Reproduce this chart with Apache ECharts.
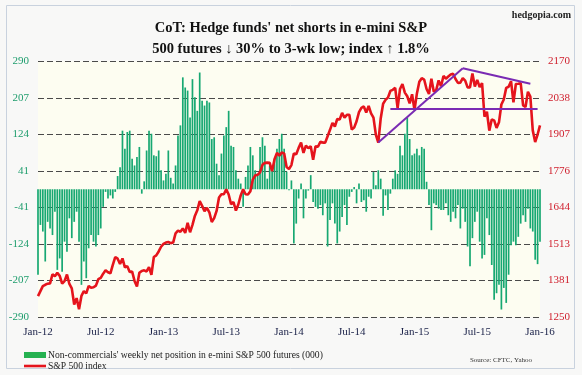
<!DOCTYPE html>
<html>
<head>
<meta charset="utf-8">
<script src="https://cdn.jsdelivr.net/npm/echarts@6/dist/echarts.min.js"></script>
<style>
html,body{margin:0;padding:0;background:#f8f8f7;}
#chart{width:582px;height:375px;}
</style>
</head>
<body>
<div id="chart"></div>
<script>
// weekly net position, non-commercials (000), Feb-2012 .. Jan-2016
var netPosition = [
  -194,-81,-96,-164,-74,-89,-104,-51,-183,-157,
  -187,-119,-142,-66,-111,-74,-51,-119,-217,-164,
  -202,-134,-104,-119,-130,-104,-89,-40,-6,-21,
  -14,-21,-6,30,50,133,92,130,133,69,
  54,73,96,-10,18,88,133,126,77,75,
  88,43,20,35,88,26,13,54,122,145,
  254,231,224,163,250,209,178,265,201,190,
  201,197,114,118,58,32,81,122,141,178,
  99,96,43,24,13,-40,28,54,96,77,
  43,35,96,118,99,24,54,50,69,92,
  114,126,92,40,-2,20,-123,-78,-21,13,
  -66,-21,-3,32,-29,-40,-44,-36,-59,-32,
  -130,-70,-32,-78,-123,-96,-63,-36,-81,-17,
  -6,5,-32,13,-29,-25,-51,-17,-21,39,
  9,43,24,-60,-14,-47,-10,24,43,35,
  99,77,126,163,114,77,81,92,77,96,
  92,17,-36,-93,-32,-36,-44,-47,-47,-32,
  -59,-74,-51,-66,-36,-89,-44,-74,-130,-175,
  -111,-74,-51,-119,-157,-149,-66,-104,-172,-251,
  -236,-217,-273,-224,-258,-194,-127,-119,-127,-108,
  -78,-59,-74,-44,-89,-96,-160,-170,-119
];
// S&P 500 index, weekly
var spx = [
  1325,1343,1361,1366,1370,1371,1404,1397,1409,1398,1370,1379,1403,1369,1353,1295,1318,1278,1326,1343,
  1335,1362,1355,1357,1363,1386,1391,1406,1418,1411,1407,1438,1466,1460,1441,1461,1429,1433,1412,1414,
  1380,1360,1409,1416,1418,1414,1430,1402,
  1466,1472,1486,1503,1513,1518,1520,1516,1518,1551,1561,1557,1569,1553,1589,1555,1582,1614,1634,1667,
  1650,1631,1643,1627,1592,1606,1632,1680,1692,1692,1710,1691,1656,1664,1633,1655,1688,1710,1692,1691,
  1703,1745,1760,1762,1771,1798,1805,1806,1805,1775,1818,1841,
  1831,1842,1839,1790,1783,1797,1839,1836,1859,1878,1841,1867,1858,1865,1816,1865,1863,1881,1878,1878,
  1901,1924,1949,1936,1963,1961,1985,1968,1978,1978,1925,1932,1955,1988,2003,2008,1986,2010,1983,1968,
  1906,1878,1965,2018,2032,2040,2064,2068,2075,2002,2071,2089,
  2058,2045,2019,2052,1995,2055,2097,2110,2105,2071,2053,2108,2061,2067,2102,2081,2118,2108,2116,2123,
  2126,2107,2093,2094,2110,2101,2077,2077,2127,2080,2104,2078,2092,1971,1989,1921,1961,1958,1931,1951,
  2015,2033,2075,2079,2099,2023,2089,2090,2092,2012,2006,2061,2044,
  1922,1880,1907,1940
];
var xTickLabels = ['Jan-12','Jul-12','Jan-13','Jul-13','Jan-14','Jul-14','Jan-15','Jul-15','Jan-16'];
var leftTicks = ['-290','-207','-124','-41','41','124','207','290'];
var rightTicks = ['1250','1381','1513','1644','1776','1907','2038','2170'];
// trend lines drawn on the index: [week index, level] pairs
var trendLines = [
  [[141, 1878], [176, 2146]],
  [[176, 2146], [204, 2090]],
  [[146, 2000], [207, 2000]]
];

var weeks = [];
var d = new Date(Date.UTC(2012, 1, 3));
for (var i = 0; i < netPosition.length; i++) {
    weeks.push(d.toISOString().slice(0, 10));
    d = new Date(d.getTime() + 7 * 86400000);
}

var barName = "Non-commercials' weekly net position in e-mini S&P 500 futures (000)";
var lineName = 'S&P 500 index';
var serif = 'Liberation Serif';

var myChart = echarts.init(document.getElementById('chart'));
option = {
    backgroundColor: '#f8f8f7',
    animation: false,
    title: {
        text: "CoT: Hedge funds' net shorts in e-mini S&P\n500 futures \u2193 30% to 3-wk low; index \u2191 1.8%",
        left: 'center',
        top: 13,
        textStyle: {
            fontFamily: serif,
            fontSize: 14.5,
            fontWeight: 'bold',
            lineHeight: 21,
            color: '#111'
        }
    },
    legend: [
        {
            data: [{name: barName, icon: 'rect', itemStyle: {color: '#25b150'}}],
            left: 19,
            top: 345,
            itemWidth: 22,
            itemHeight: 6,
            itemGap: 0,
            textStyle: {fontFamily: serif, fontSize: 9.6, color: '#222', padding: [0, 0, 0, -3]}
        },
        {
            data: [{name: lineName, icon: 'rect', itemStyle: {color: '#e5141c'}}],
            left: 19,
            top: 356,
            itemWidth: 22,
            itemHeight: 2.6,
            itemGap: 0,
            textStyle: {fontFamily: serif, fontSize: 9.6, color: '#222', padding: [0, 0, 0, -3]}
        }
    ],
    grid: {
        left: 38,
        right: 42,
        top: 61.5,
        bottom: 58,
        show: true,
        backgroundColor: '#fdfdf1',
        borderWidth: 0
    },
    xAxis: {
        type: 'category',
        data: weeks,
        boundaryGap: false,
        axisLine: {show: false},
        axisTick: {show: false},
        splitLine: {show: false},
        axisLabel: {
            interval: function (index) { return index % 26 === 0; },
            formatter: function (value) { return xTickLabels[weeks.indexOf(value) / 26]; },
            fontFamily: serif,
            fontSize: 11,
            color: '#1a2148',
            margin: 10
        }
    },
    yAxis: [
        {
            type: 'value',
            min: -290,
            max: 290,
            interval: 580 / 7,
            axisLine: {show: false},
            axisTick: {show: false},
            splitLine: {lineStyle: {color: '#4a4a4a', width: 1, type: [6, 3]}},
            axisLabel: {
                formatter: function (v) { return leftTicks[Math.round((v + 290) / (580 / 7))]; },
                fontFamily: serif,
                fontSize: 11,
                color: '#1e9d6d',
                margin: 9
            }
        },
        {
            type: 'value',
            min: 1250,
            max: 2170,
            interval: 920 / 7,
            axisLine: {show: false},
            axisTick: {show: false},
            splitLine: {show: false},
            axisLabel: {
                formatter: function (v) { return rightTicks[Math.round((v - 1250) / (920 / 7))]; },
                fontFamily: serif,
                fontSize: 11,
                color: '#d0202e',
                margin: 8
            }
        }
    ],
    series: [
        {
            name: barName,
            type: 'bar',
            data: netPosition,
            barWidth: 1.7,
            itemStyle: {color: '#17a872'},
            clip: false
        },
        {
            name: lineName,
            type: 'line',
            yAxisIndex: 1,
            data: spx,
            symbol: 'none',
            lineStyle: {color: '#e5141c', width: 2.6},
            itemStyle: {color: '#e5141c'},
            z: 3,
            markLine: {
                silent: true,
                symbol: ['none', 'none'],
                label: {show: false},
                lineStyle: {color: '#7a2bb3', width: 2, type: 'solid'},
                data: trendLines.map(function (seg) {
                    return [
                        {coord: [weeks[seg[0][0]], seg[0][1]]},
                        {coord: [weeks[seg[1][0]], seg[1][1]]}
                    ];
                })
            }
        }
    ],
    graphic: [
        {
            type: 'rect',
            shape: {x: 6.5, y: 5.5, width: 568, height: 363},
            style: {fill: 'none', stroke: '#c9d2de', lineWidth: 1},
            silent: true
        },
        {
            type: 'text',
            right: 11,
            top: 10,
            style: {text: 'hedgopia.com', font: 'bold 10px "Liberation Serif"', fill: '#222'}
        },
        {
            type: 'text',
            right: 50,
            top: 357,
            style: {text: 'Source: CFTC, Yahoo', font: '7px "Liberation Serif"', fill: '#333'}
        }
    ]
};
myChart.setOption(option);
</script>
</body>
</html>
